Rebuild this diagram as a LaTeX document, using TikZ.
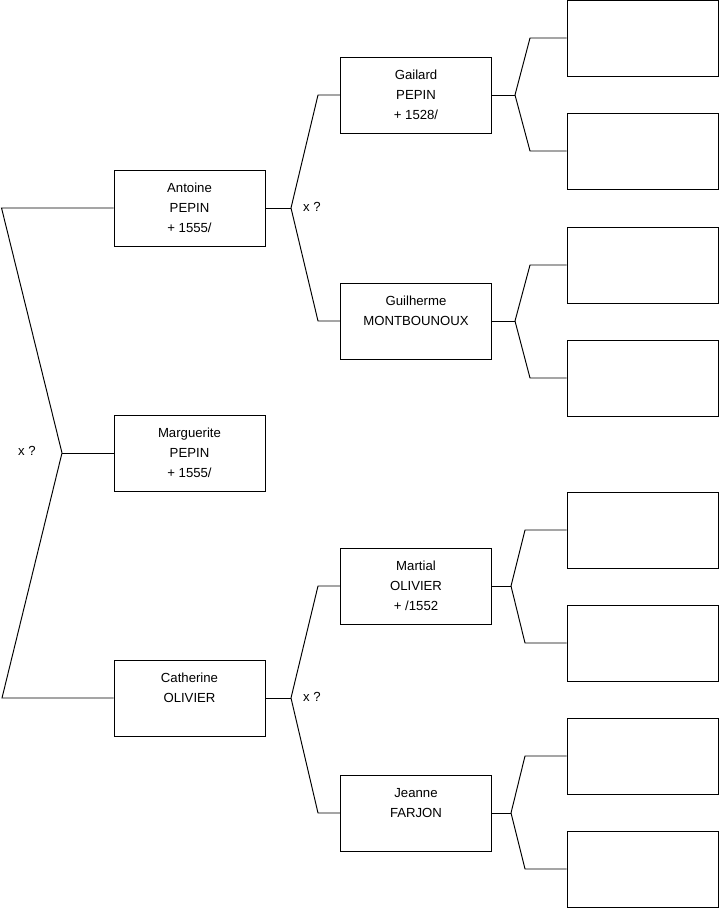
\documentclass[tikz,border=0pt]{standalone}
\usepackage{fontspec}
\setmainfont{Liberation Sans}
\usetikzlibrary{positioning}

\tikzset{
  person/.style={draw=black,line width=0.55pt,minimum width=3.02cm,minimum height=1.52cm,
    align=center,inner sep=0pt,font=\fontsize{7.5pt}{11.3pt}\selectfont},
  blank/.style={person},
  link/.style={line width=0.55pt},
  xlab/.style={font=\fontsize{7.5pt}{9pt}\selectfont,inner sep=0pt}
}

\begin{document}
\begin{tikzpicture}[x=0.02cm,y=-0.02cm]
\useasboundingbox (0,0) rectangle (719,908);

% generation 1
\node[person] (ant) at (189.5,208) {Antoine\\PEPIN\\+ 1555/};
\node[person] (mar) at (189.5,453) {Marguerite\\PEPIN\\+ 1555/};
\node[person] (cat) at (189.5,698) {Catherine\\OLIVIER\\\phantom{0}};

% generation 2
\node[person] (gai) at (416,95) {Gailard\\PEPIN\\+ 1528/};
\node[person] (gui) at (416,321) {Guilherme\\MONTBOUNOUX\\\phantom{0}};
\node[person] (mrt) at (416,586) {Martial\\OLIVIER\\+ /1552};
\node[person] (jea) at (416,813) {Jeanne\\FARJON\\\phantom{0}};

% generation 3
\node[blank] (r1) at (642.5,38) {};
\node[blank] (r2) at (642.5,151) {};
\node[blank] (r3) at (642.5,265) {};
\node[blank] (r4) at (642.5,378) {};
\node[blank] (r5) at (642.5,530) {};
\node[blank] (r6) at (642.5,643) {};
\node[blank] (r7) at (642.5,756) {};
\node[blank] (r8) at (642.5,869) {};

% junctions
\coordinate (j0) at (62,453);
\coordinate (ja) at (291,208);
\coordinate (jc) at (291,698);
\coordinate (jg) at (515,95);
\coordinate (jh) at (515,321);
\coordinate (jm) at (511,586);
\coordinate (jj) at (511,813);

\node[xlab] (x0) at (27,451) {x ?};
\node[xlab] (xa) at (312,207) {x ?};
\node[xlab] (xc) at (312,697) {x ?};

% links
\draw[link] (ant.west) -- ++(-112,0) -- (j0) -- ++(-60,245) -- (cat.west);
\draw[link] (j0) -- (mar.west);

\draw[link] (ant.east) -- (ja);
\draw[link] (ja) -- ++(27,-113) -- (gai.west);
\draw[link] (ja) -- ++(27,113) -- (gui.west);

\draw[link] (cat.east) -- (jc);
\draw[link] (jc) -- ++(27,-112) -- (mrt.west);
\draw[link] (jc) -- ++(27,115) -- (jea.west);

\draw[link] (gai.east) -- (jg);
\draw[link] (jg) -- ++(15,-57) -- (r1.west);
\draw[link] (jg) -- ++(15,56) -- (r2.west);

\draw[link] (gui.east) -- (jh);
\draw[link] (jh) -- ++(15,-56) -- (r3.west);
\draw[link] (jh) -- ++(15,57) -- (r4.west);

\draw[link] (mrt.east) -- (jm);
\draw[link] (jm) -- ++(14,-56) -- (r5.west);
\draw[link] (jm) -- ++(14,57) -- (r6.west);

\draw[link] (jea.east) -- (jj);
\draw[link] (jj) -- ++(14,-57) -- (r7.west);
\draw[link] (jj) -- ++(14,56) -- (r8.west);

\end{tikzpicture}
\end{document}
